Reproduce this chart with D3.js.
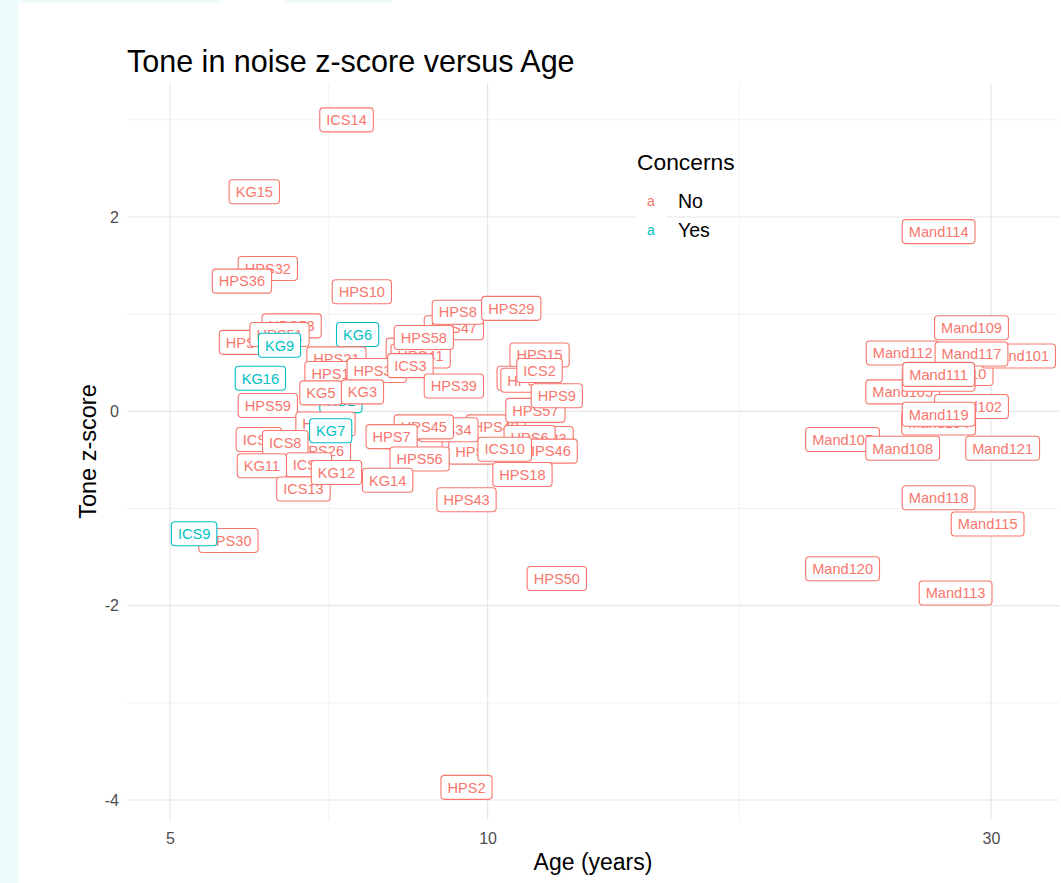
<!DOCTYPE html>
<html><head><meta charset="utf-8">
<script src="https://cdn.jsdelivr.net/npm/d3@7"></script>
<style>
body{margin:0;padding:0;background:#fff;}
text{font-family:"Liberation Sans",Arial,sans-serif;}
</style></head>
<body>
<script>
// ---- data (drawing order) ----
const ids = ["ICS14","KG15","HPS32","HPS36","HPS10","HPS53","HPS55","HPS51","KG9","KG6","KG16",
"HPS47","HPS40","HPS41","HPS58","HPS8","HPS29","HPS21","HPS17","HPS35","ICS3","HPS39","KG2","HPS59","KG5","KG3",
"HPS15","HPS12","HPS13","ICS2","HPS48","HPS19","HPS23","HPS6","HPS46","ICS10","HPS57","HPS9","HPS18",
"HPS44","HPS34","HPS45","HPS7","HPS56","KG14","HPS43","HPS20","HPS26","ICS1","ICS8","KG7","ICS5","KG11","ICS13","KG12",
"HPS30","ICS9","HPS50","HPS2",
"Mand114","Mand109","Mand110","Mand101","Mand112","Mand117","Mand105","Mand116","Mand111","Mand102","Mand104","Mand119",
"Mand107","Mand108","Mand121","Mand118","Mand115","Mand120","Mand113"];
const ages = [7.35,6.01,6.19,5.85,7.60,6.52,5.94,6.35,6.35,7.53,6.09,
9.29,8.55,8.64,8.70,9.37,10.53,7.19,7.16,7.85,8.45,9.29,7.26,6.19,6.95,7.61,
11.20,10.89,10.98,11.20,10.18,9.80,11.30,10.96,11.40,10.38,11.10,11.63,10.79,
8.49,9.18,8.70,8.11,8.62,8.04,9.55,7.02,6.95,6.07,6.43,7.10,6.77,6.11,6.69,7.19,
5.68,5.27,11.63,9.55,
26.76,28.75,27.83,31.86,24.74,28.75,24.74,26.76,26.76,28.75,26.76,26.76,
21.70,24.74,30.77,26.76,29.78,21.70,27.77];
const zscores = [3.00,2.26,1.47,1.34,1.23,0.88,0.71,0.79,0.68,0.79,0.34,
0.86,0.63,0.57,0.76,1.02,1.06,0.54,0.39,0.42,0.47,0.26,0.11,0.06,0.19,0.20,
0.58,0.34,0.32,0.42,-0.16,-0.42,-0.28,-0.27,-0.41,-0.39,0.01,0.16,-0.65,
-0.26,-0.19,-0.16,-0.26,-0.49,-0.71,-0.91,-0.13,-0.41,-0.29,-0.32,-0.20,-0.55,-0.56,-0.80,-0.63,
-1.33,-1.26,-1.72,-3.87,
1.85,0.86,0.39,0.57,0.60,0.59,0.20,0.33,0.38,0.05,-0.12,-0.03,
-0.29,-0.38,-0.38,-0.89,-1.16,-1.62,-1.87];
const yesIds = ["KG9","KG6","KG16","KG2","KG7","ICS9"];
const concerns = ids.map(d => yesIds.includes(d) ? "Yes" : "No");
const concernLevels = ["No","Yes"];
const xTicks = [5,10,30];
const xMinor = [7.071,17.32];
const yTicks = [-4,-2,0,2];
const yMinor = [-3,-1,1,3];
const titleText = "Tone in noise z-score versus Age";
const xTitle = "Age (years)";
const yTitle = "Tone z-score";
const legendTitle = "Concerns";

// ---- layout ----
const W = 1061, H = 883;
const P = {left:127, right:1059, top:83, bottom:820};
const svg = d3.select("body").append("svg").attr("width",W).attr("height",H);
svg.append("rect").attr("width",W).attr("height",H).attr("fill","#fff");
// page strips
svg.append("rect").attr("x",0).attr("y",0).attr("width",18).attr("height",H).attr("fill","#eefbfd");
svg.append("rect").attr("x",0).attr("y",0).attr("width",220).attr("height",3).attr("fill","#eefbfd");
svg.append("rect").attr("x",285).attr("y",0).attr("width",107).attr("height",3).attr("fill","#eefbfd");

const x = d3.scaleLog().domain([5,30]).range([170,991]);
const y = d3.scaleLinear().domain([-4,2]).range([800,217]);
const color = d3.scaleOrdinal().domain(concernLevels).range(["#F8766D","#00BFC4"]);

const grid = svg.append("g");
grid.selectAll(".ym").data(yMinor).join("line")
  .attr("x1",P.left).attr("x2",P.right).attr("y1",d=>y(d)).attr("y2",d=>y(d))
  .attr("stroke","#ececec").attr("stroke-width",0.7);
grid.selectAll(".xm").data(xMinor).join("line")
  .attr("y1",P.top).attr("y2",P.bottom).attr("x1",d=>x(d)).attr("x2",d=>x(d))
  .attr("stroke","#ececec").attr("stroke-width",0.7);
grid.selectAll(".yM").data(yTicks).join("line")
  .attr("x1",P.left).attr("x2",P.right).attr("y1",d=>y(d)).attr("y2",d=>y(d))
  .attr("stroke","#e6e6e6").attr("stroke-width",1.2);
grid.selectAll(".xM").data(xTicks).join("line")
  .attr("y1",P.top).attr("y2",P.bottom).attr("x1",d=>x(d)).attr("x2",d=>x(d))
  .attr("stroke","#e6e6e6").attr("stroke-width",1.2);

// axes
const xa = svg.append("g").attr("transform",`translate(0,${P.bottom})`)
  .call(d3.axisBottom(x).tickValues(xTicks).tickFormat(d3.format("d")).tickSize(0).tickPadding(13));
const ya = svg.append("g").attr("transform",`translate(${P.left},0)`)
  .call(d3.axisLeft(y).tickValues(yTicks).tickFormat(d=>d).tickSize(0).tickPadding(8));
[xa,ya].forEach(a=>{a.select(".domain").remove();
  a.selectAll("text").attr("font-size",16).attr("fill","#4d4d4d").attr("font-family","Liberation Sans, Arial, sans-serif");});

// titles
svg.append("text").attr("x",127).attr("y",72).attr("font-size",30.5).attr("fill","#000").text(titleText);
svg.append("text").attr("x",(P.left+P.right)/2).attr("y",870).attr("text-anchor","middle")
  .attr("font-size",23).attr("fill","#000").text(xTitle);
svg.append("text").attr("transform",`translate(96,${(P.top+P.bottom)/2}) rotate(-90)`).attr("text-anchor","middle")
  .attr("font-size",23.5).attr("fill","#000").text(yTitle);

// labels
const data = ids.map((id,i)=>({id, age:ages[i], z:zscores[i], c:concerns[i]}));
const lab = svg.append("g");
data.forEach(d=>{
  const g = lab.append("g").attr("transform",`translate(${x(d.age)},${y(d.z)})`);
  const r = g.append("rect");
  const t = g.append("text").attr("text-anchor","middle").attr("dy","0.36em")
    .attr("font-size",14.6).attr("fill",color(d.c)).text(d.id);
  const w = t.node().getComputedTextLength()+13, h = 24;
  r.attr("x",-w/2).attr("y",-h/2).attr("width",w).attr("height",h).attr("rx",3.5)
   .attr("fill","#fff").attr("stroke",color(d.c)).attr("stroke-width",1.1);
});

// legend
const lg = svg.append("g");
lg.append("text").attr("x",637).attr("y",170).attr("font-size",22.8).attr("fill","#000").text(legendTitle);
lg.append("rect").attr("x",637).attr("y",186).attr("width",29).attr("height",58).attr("fill","#fff");
concernLevels.forEach((lv,i)=>{
  const cy = 201 + i*29;
  lg.append("text").attr("x",651).attr("y",cy).attr("dy","0.35em").attr("text-anchor","middle")
    .attr("font-size",14).attr("fill",color(lv)).text("a");
  lg.append("text").attr("x",678).attr("y",cy).attr("dy","0.36em")
    .attr("font-size",19.5).attr("fill","#000").text(lv);
});
</script>
</body></html>
